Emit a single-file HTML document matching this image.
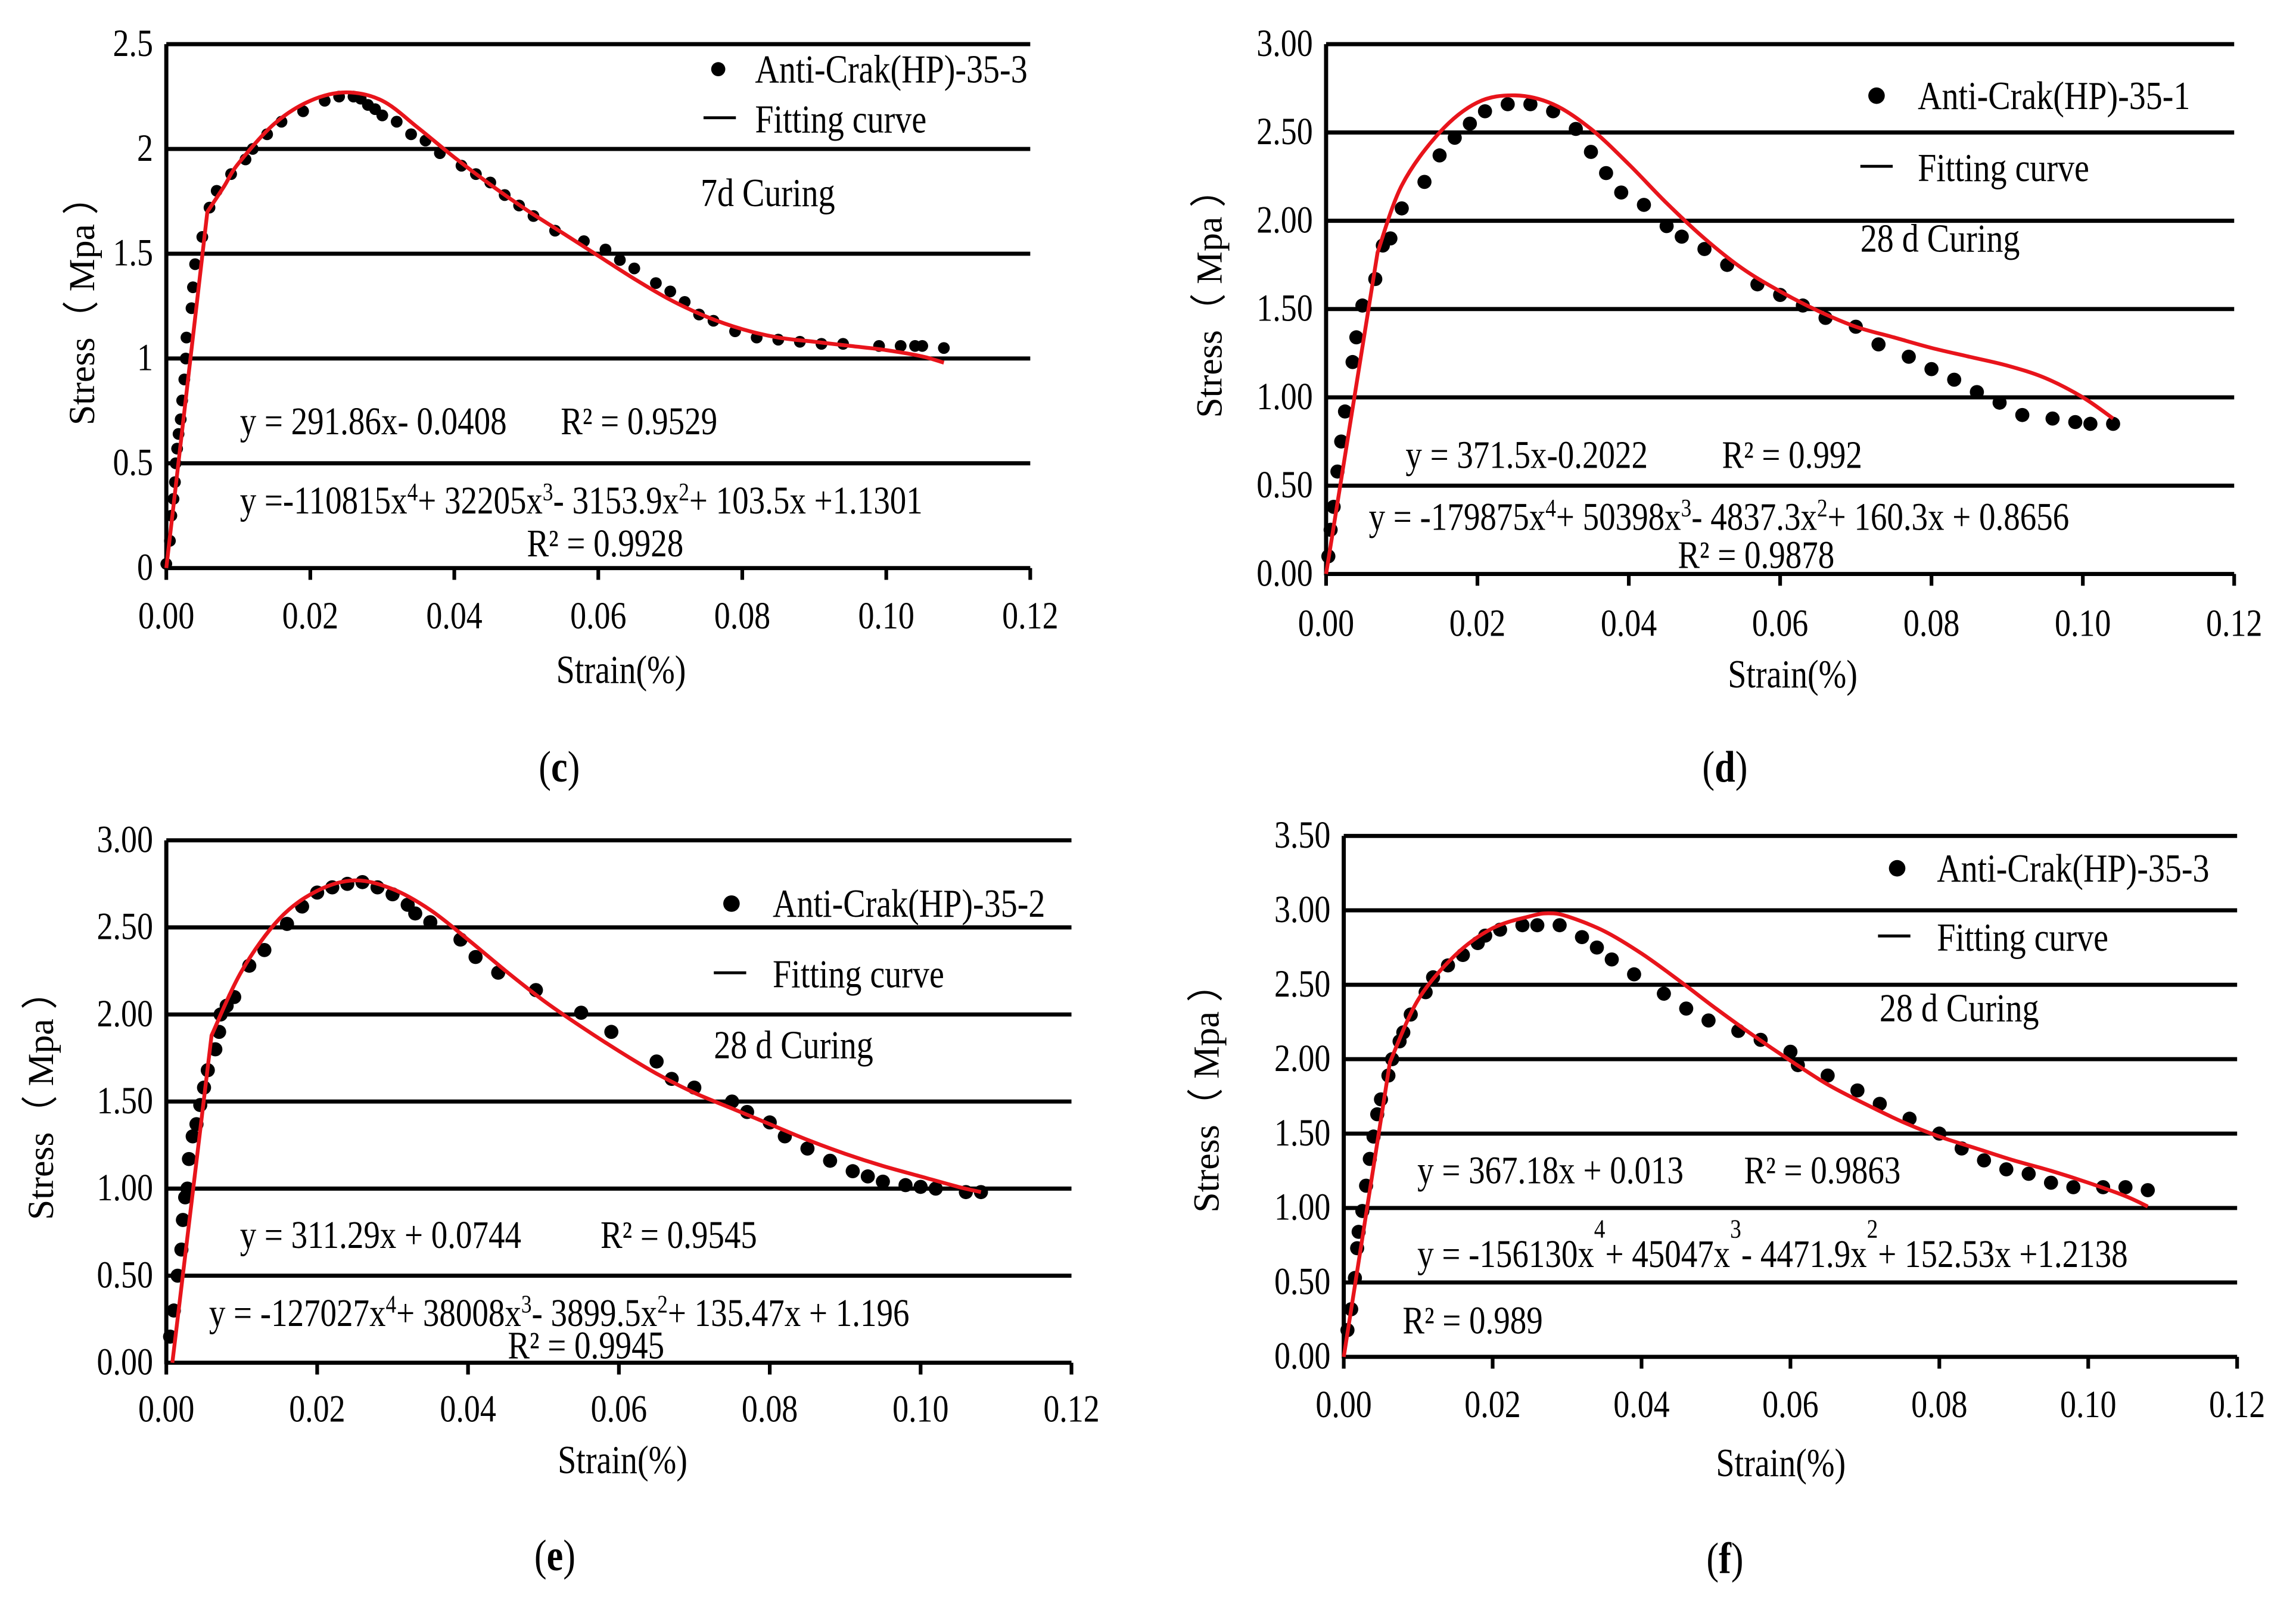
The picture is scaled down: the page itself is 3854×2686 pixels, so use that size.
<!DOCTYPE html>
<html><head><meta charset="utf-8">
<style>
html,body{margin:0;padding:0;background:#fff}
svg{display:block}
text{font-family:"Liberation Serif",serif;fill:#000}
</style></head>
<body>
<svg id="fig" width="3854" height="2686" viewBox="0 0 1560 1087.2" xmlns="http://www.w3.org/2000/svg"></svg>
<script>
// ---- Data ----
const cStrain=[0,0.0005,0.0007,0.001,0.0012,0.0013,0.0015,0.0017,0.002,0.0022,0.0025,0.0027,0.0028,0.0035,0.0037,0.004,0.005,0.006,0.007,0.009,0.011,0.012,0.014,0.016,0.019,0.022,0.024,0.026,0.027,0.028,0.029,0.030,0.032,0.034,0.036,0.038,0.041,0.043,0.045,0.047,0.049,0.051,0.054,0.058,0.061,0.063,0.065,0.068,0.070,0.072,0.074,0.076,0.079,0.082,0.085,0.088,0.091,0.094,0.099,0.102,0.104,0.105,0.108];
const cStress=[0.02,0.13,0.25,0.33,0.41,0.5,0.57,0.64,0.71,0.8,0.9,1.0,1.1,1.24,1.34,1.45,1.58,1.72,1.8,1.88,1.95,2.0,2.07,2.13,2.18,2.23,2.25,2.25,2.24,2.21,2.19,2.16,2.13,2.07,2.04,1.98,1.92,1.88,1.84,1.78,1.73,1.68,1.61,1.56,1.52,1.47,1.43,1.36,1.32,1.27,1.21,1.18,1.13,1.1,1.09,1.08,1.07,1.07,1.06,1.06,1.06,1.06,1.05];
const cFitStrain=[0,0.0057,0.008,0.01,0.015,0.02,0.025,0.03,0.035,0.04,0.045,0.05,0.055,0.06,0.065,0.07,0.075,0.08,0.085,0.09,0.095,0.1,0.105,0.108];
const cFitStress=[0,1.7,1.82,1.93,2.12,2.23,2.27,2.23,2.1,1.96,1.83,1.71,1.6,1.49,1.38,1.28,1.2,1.14,1.1,1.08,1.06,1.04,1.01,0.98];

const dStrain=[0.0003,0.0006,0.001,0.0015,0.002,0.0025,0.0035,0.004,0.0048,0.0065,0.0075,0.0085,0.01,0.013,0.015,0.017,0.019,0.021,0.024,0.027,0.030,0.033,0.035,0.037,0.039,0.042,0.045,0.047,0.050,0.053,0.057,0.060,0.063,0.066,0.070,0.073,0.077,0.080,0.083,0.086,0.089,0.092,0.096,0.099,0.101,0.104];
const dStress=[0.1,0.25,0.38,0.58,0.75,0.92,1.2,1.34,1.52,1.67,1.86,1.9,2.07,2.22,2.37,2.47,2.55,2.62,2.66,2.66,2.62,2.52,2.39,2.27,2.16,2.09,1.97,1.91,1.84,1.75,1.64,1.58,1.52,1.45,1.4,1.3,1.23,1.16,1.1,1.03,0.97,0.9,0.88,0.86,0.85,0.85];
const dFitStrain=[0,0.0068,0.01,0.015,0.02,0.025,0.03,0.035,0.04,0.045,0.05,0.055,0.06,0.065,0.07,0.075,0.08,0.085,0.09,0.095,0.1,0.104];
const dFitStress=[0,1.82,2.2,2.5,2.67,2.71,2.66,2.52,2.32,2.1,1.9,1.73,1.6,1.49,1.4,1.34,1.28,1.23,1.18,1.11,1.0,0.88];

const eStrain=[0.0005,0.001,0.0015,0.002,0.0022,0.0025,0.0028,0.003,0.0035,0.004,0.0045,0.005,0.0055,0.0065,0.007,0.0072,0.008,0.009,0.011,0.013,0.016,0.018,0.020,0.022,0.024,0.026,0.028,0.030,0.032,0.033,0.035,0.039,0.041,0.044,0.049,0.055,0.059,0.065,0.067,0.070,0.075,0.077,0.080,0.082,0.085,0.088,0.091,0.093,0.095,0.098,0.1,0.102,0.106,0.108];
const eStress=[0.15,0.3,0.5,0.65,0.82,0.95,1.0,1.17,1.3,1.37,1.48,1.58,1.68,1.8,1.9,2.0,2.05,2.1,2.28,2.37,2.52,2.62,2.7,2.73,2.75,2.76,2.73,2.69,2.63,2.58,2.53,2.43,2.33,2.24,2.14,2.01,1.9,1.73,1.63,1.58,1.5,1.44,1.38,1.3,1.23,1.16,1.1,1.07,1.04,1.02,1.01,1.0,0.98,0.98];
const eFitStrain=[0.0008,0.006,0.01,0.015,0.02,0.025,0.03,0.035,0.04,0.045,0.05,0.055,0.06,0.065,0.07,0.075,0.08,0.085,0.09,0.095,0.1,0.105,0.108];
const eFitStress=[0,1.88,2.25,2.55,2.71,2.77,2.72,2.6,2.43,2.25,2.08,1.93,1.79,1.66,1.55,1.46,1.37,1.28,1.2,1.13,1.07,1.01,0.98];

const fStrain=[0.0005,0.001,0.0015,0.0018,0.002,0.0025,0.003,0.0035,0.004,0.0045,0.005,0.006,0.0065,0.0075,0.008,0.009,0.011,0.012,0.014,0.016,0.018,0.019,0.021,0.024,0.026,0.029,0.032,0.034,0.036,0.039,0.043,0.046,0.049,0.053,0.056,0.060,0.061,0.065,0.069,0.072,0.076,0.080,0.083,0.086,0.089,0.092,0.095,0.098,0.102,0.105,0.108];
const fStress=[0.18,0.32,0.53,0.73,0.84,0.98,1.15,1.33,1.48,1.63,1.73,1.89,2.0,2.12,2.18,2.3,2.45,2.55,2.63,2.7,2.78,2.83,2.87,2.9,2.9,2.9,2.82,2.75,2.67,2.57,2.44,2.34,2.26,2.19,2.13,2.05,1.96,1.89,1.79,1.7,1.6,1.5,1.4,1.32,1.26,1.23,1.17,1.14,1.14,1.14,1.12];
const fFitStrain=[0,0.0062,0.01,0.015,0.02,0.025,0.0275,0.03,0.035,0.04,0.045,0.05,0.055,0.06,0.065,0.07,0.075,0.08,0.085,0.09,0.095,0.1,0.105,0.108];
const fFitStress=[0,1.98,2.4,2.7,2.88,2.96,2.98,2.96,2.86,2.71,2.53,2.34,2.16,1.99,1.83,1.7,1.58,1.48,1.4,1.32,1.25,1.17,1.08,1.01];

const xTicks=[0,0.02,0.04,0.06,0.08,0.10,0.12];
const xTickLabels=["0.00","0.02","0.04","0.06","0.08","0.10","0.12"];
const cYTicks=[0,0.5,1,1.5,2,2.5];
const cYTickLabels=["0","0.5","1","1.5","2","2.5"];
const dYTicks=[0,0.5,1,1.5,2,2.5,3];
const dYTickLabels=["0.00","0.50","1.00","1.50","2.00","2.50","3.00"];
const fYTicks=[0,0.5,1,1.5,2,2.5,3,3.5];
const fYTickLabels=["0.00","0.50","1.00","1.50","2.00","2.50","3.00","3.50"];

// ---- Drawing ----
const NS="http://www.w3.org/2000/svg";
const svg=document.getElementById('fig');
const SX=0.84;
function mk(tag,attrs,parent){const e=document.createElementNS(NS,tag);for(const k in attrs)e.setAttribute(k,attrs[k]);(parent||svg).appendChild(e);return e;}
function txt(parent,x,y,s,size,anchor,html){
  const t=mk('text',{x:0,y:0,'font-size':size,'text-anchor':anchor||'start',transform:'translate('+x+','+y+') scale('+SX+',1)'},parent);
  if(html)t.innerHTML=s;else t.textContent=s;return t;}
function smooth(pts){
  // first segment straight (linear fit), rest Catmull-Rom
  let d='M'+pts[0][0]+','+pts[0][1]+' L'+pts[1][0]+','+pts[1][1];
  for(let i=1;i<pts.length-1;i++){
    const p0=pts[Math.max(1,i-1)],p1=pts[i],p2=pts[i+1],p3=pts[Math.min(pts.length-1,i+2)];
    const c1=[p1[0]+(p2[0]-p0[0])/6,p1[1]+(p2[1]-p0[1])/6];
    const c2=[p2[0]-(p3[0]-p1[0])/6,p2[1]-(p3[1]-p1[1])/6];
    d+=' C'+c1[0]+','+c1[1]+' '+c2[0]+','+c2[1]+' '+p2[0]+','+p2[1];
  }
  return d;
}

function panel(P){
  const g=mk('g',{});
  
  
  const xs=v=>P.x0+(v-0)/0.12*(P.x1-P.x0);
  const ys=v=>P.y0-(v/P.ymax)*(P.y0-P.y1);
  P.yTicks.forEach((v,i)=>{
    if(v>0){const l=mk('line',{x1:P.x0,x2:P.x1,y1:ys(v),y2:ys(v),stroke:'#000','stroke-width':2.8},g);
      
      }
    const t=txt(g,P.x0-9,ys(v)+8,P.yLabels[i],26,'end');
    
    
  });
  const xa=mk('line',{x1:P.x0-1,x2:P.x1,y1:P.y0,y2:P.y0,stroke:'#000','stroke-width':2.8},g);
  
  
  const ya=mk('line',{x1:P.x0,x2:P.x0,y1:P.y1,y2:P.y0+1,stroke:'#000','stroke-width':2.8},g);
  
  
  xTicks.forEach((v,i)=>{
    mk('line',{x1:xs(v),x2:xs(v),y1:P.y0,y2:P.y0+8,stroke:'#000','stroke-width':2.5},g);
    const t=txt(g,xs(v),P.y0+P.xlOff,xTickLabels[i],26,'middle');
    
    
  });
  const xt=txt(g,P.xtx,P.xty,'Strain(%)',27,'middle');
  
  
  const yt=mk('text',{x:0,y:0,'font-size':25,'text-anchor':'middle',transform:'translate('+P.ytx+','+P.yty+') rotate(-90)','font-family':'"Liberation Sans","Noto Sans CJK SC",sans-serif'},g);
  yt.textContent='Stress（ Mpa ）';
  
  
  const cap=txt(g,P.capx,P.capy,'(<tspan font-weight="bold">'+P.id+'</tspan>)',30,'middle',true);
  
  
  P.sx.forEach((v,i)=>{
    const c=mk('circle',{cx:xs(v),cy:ys(P.sy[i]),r:P.r,fill:'#000'},g);
    
    
  });
  const pts=P.fx.map((v,i)=>[xs(v),ys(P.fy[i])]);
  const fc=mk('path',{d:smooth(pts),fill:'none',stroke:'#e8141b','stroke-width':2.6,'stroke-linejoin':'round'},g);
  
  
  const lg=mk('g',{},g);
  
  
  mk('circle',{cx:P.lg[0],cy:P.lg[1],r:P.r+0.8,fill:'#000'},lg);
  txt(lg,P.lg[2],P.lg[1]+9,P.series,27);
  mk('line',{x1:P.lg[3],x2:P.lg[3]+22,y1:P.lg[4],y2:P.lg[4],stroke:'#000','stroke-width':2},lg);
  txt(lg,P.lg[2],P.lg[4]+10,'Fitting curve',27);
  const cu=txt(g,P.cur[0],P.cur[1],P.curing,27);
  
  
  const eq=mk('g',{},g);
  
  
  P.eqs.forEach(e=>txt(eq,e[0],e[1],e[2],26.5,'start',true));
}

const S=(n)=>'<tspan font-size="17" dy="-9">'+n+'</tspan><tspan dy="9">';
const H=(n)=>'<tspan font-size="18" dy="-20">'+n+'</tspan><tspan dy="20">';
panel({id:'c',x0:113,x1:700,y0:386,y1:30,ymax:2.5,yTicks:cYTicks,yLabels:cYTickLabels,xlOff:41,
  xtx:422,xty:464,ytx:64,yty:205,capx:380,capy:531,sx:cStrain,sy:cStress,fx:cFitStrain,fy:cFitStress,r:4,
  series:'Anti-Crak(HP)-35-3',lg:[488,47,513,478,80],curing:'7d Curing',cur:[476,140],
  eqs:[[163,295,'y = 291.86x- 0.0408'],[381,295,'R² = 0.9529'],
   [163,349,'y =-110815x'+S(4)+'+ 32205x</tspan>'+S(3)+'- 3153.9x</tspan>'+S(2)+'+ 103.5x +1.1301</tspan>'],
   [358,378,'R² = 0.9928']]});
panel({id:'d',x0:901,x1:1518,y0:390,y1:30,ymax:3,yTicks:dYTicks,yLabels:dYTickLabels,xlOff:42,
  xtx:1218,xty:467,ytx:830,yty:200,capx:1172,capy:531,sx:dStrain,sy:dStress,fx:dFitStrain,fy:dFitStress,r:4.8,
  series:'Anti-Crak(HP)-35-1',lg:[1275,65,1303,1264,113],curing:'28 d Curing',cur:[1264,171],
  eqs:[[955,318,'y = 371.5x-0.2022'],[1170,318,'R² = 0.992'],
   [930,360,'y = -179875x'+S(4)+'+ 50398x</tspan>'+S(3)+'- 4837.3x</tspan>'+S(2)+'+ 160.3x + 0.8656</tspan>'],
   [1140,386,'R² = 0.9878']]});
panel({id:'e',x0:113,x1:728,y0:926,y1:571,ymax:3,yTicks:dYTicks,yLabels:dYTickLabels,xlOff:40,
  xtx:423,xty:1001,ytx:36,yty:745,capx:377,capy:1067,sx:eStrain,sy:eStress,fx:eFitStrain,fy:eFitStress,r:4.8,
  series:'Anti-Crak(HP)-35-2',lg:[497,614,525,485,661],curing:'28 d Curing',cur:[485,719],
  eqs:[[163,848,'y = 311.29x + 0.0744'],[408,848,'R² = 0.9545'],
   [142,901,'y =  -127027x'+S(4)+'+ 38008x</tspan>'+S(3)+'- 3899.5x</tspan>'+S(2)+'+ 135.47x + 1.196</tspan>'],
   [345,923,'R² = 0.9945']]});
panel({id:'f',x0:913,x1:1520,y0:922,y1:568,ymax:3.5,yTicks:fYTicks,yLabels:fYTickLabels,xlOff:41,
  xtx:1210,xty:1003,ytx:828,yty:740,capx:1172,capy:1069,sx:fStrain,sy:fStress,fx:fFitStrain,fy:fFitStress,r:4.8,
  series:'Anti-Crak(HP)-35-3',lg:[1289,590,1316,1276,636],curing:'28 d Curing',cur:[1277,694],
  eqs:[[963,804,'y = 367.18x + 0.013'],[1185,804,'R² = 0.9863'],
   [963,861,'y =  -156130x'+H(4)+'+ 45047x</tspan>'+H(3)+'- 4471.9x</tspan>'+H(2)+'+ 152.53x +1.2138</tspan>'],
   [953,906,'R² = 0.989']]});
</script>
</body></html>
